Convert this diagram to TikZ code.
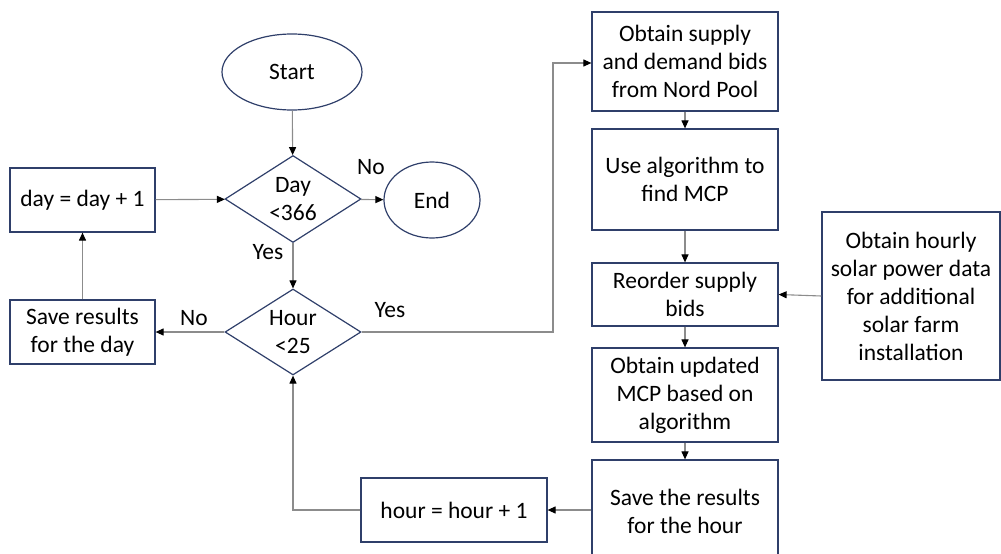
\documentclass[tikz,border=0pt]{standalone}
\usepackage{fontspec}
\setmainfont{Carlito}
\usetikzlibrary{shapes.geometric,arrows.meta}
\definecolor{bordc}{HTML}{2F3F6A}
\definecolor{linec}{HTML}{8C8C8C}
\tikzset{
  box/.style={draw=bordc,line width=1.2pt,fill=white,inner sep=0pt,align=center,font=\fontsize{23.5}{28}\selectfont},
  oval/.style={ellipse,draw=bordc,line width=1.2pt,inner sep=0pt,font=\fontsize{23.5}{28}\selectfont},
  dec/.style={diamond,draw=bordc,line width=1.2pt,inner sep=0pt,aspect=1.56,align=center,font=\fontsize{23.5}{28}\selectfont},
  conn/.style={draw=linec,line width=1.1pt,-{Triangle[length=8pt,width=7pt,fill=black,color=black]}},
  lbl/.style={font=\fontsize{23.5}{28}\selectfont}
}
\begin{document}
\begin{tikzpicture}[x=1pt,y=-1pt]
\useasboundingbox (0,0) rectangle (1001,554);
\node[oval,minimum width=140pt,minimum height=76pt] (start) at (292,72) {Start};
\node[dec,minimum width=136pt,minimum height=87pt] (day) at (293,199) {Day\\<366};
\node[oval,minimum width=96pt,minimum height=76pt] (end) at (432,200) {End};
\node[box,minimum width=145pt,minimum height=64pt] (inc) at (82.5,200) {day = day + 1};
\node[box,minimum width=145pt,minimum height=64pt] (saveday) at (82.5,332) {Save results\\for the day};
\node[dec,minimum width=136pt,minimum height=86pt] (hour) at (293,332) {Hour\\<25};
\node[box,minimum width=186pt,minimum height=64pt] (hinc) at (454,510) {hour = hour + 1};
\node[box,minimum width=186pt,minimum height=99pt] (b1) at (685,61.5) {Obtain supply\\and demand bids\\from Nord Pool};
\node[box,minimum width=186pt,minimum height=101pt] (b2) at (685,179.5) {Use algorithm to\\find MCP};
\node[box,minimum width=186pt,minimum height=63pt] (b3) at (685,294.5) {Reorder supply\\bids};
\node[box,minimum width=186pt,minimum height=94pt] (b4) at (685,395) {Obtain updated\\MCP based on\\algorithm};
\node[box,minimum width=186pt,minimum height=102pt] (b5) at (685,511) {Save the results\\for the hour};
\node[box,minimum width=178pt,minimum height=168pt] (solar) at (911,296) {Obtain hourly\\solar power data\\for additional\\solar farm\\installation};
\coordinate (yc1) at (553,332);
\coordinate (yc2) at (553,63);
\coordinate (hc) at (293,510);
\draw[conn] (start) -- (day);
\draw[conn] (inc) -- (day);
\draw[conn] (day) -- (end);
\draw[conn] (day) -- (hour);
\draw[conn] (hour) -- (saveday);
\draw[conn] (saveday) -- (inc);
\draw[conn] (hour.east) -- (yc1) -- (yc2) -- (b1.west |- yc2);
\draw[conn] (b1) -- (b2);
\draw[conn] (b2) -- (b3);
\draw[conn] (solar.west) -- (b3.east);
\draw[conn] (b3) -- (b4);
\draw[conn] (b4) -- (b5);
\draw[conn] (b5.west |- hinc.east) -- (hinc.east);
\draw[conn] (hinc.west) -- (hc) -- (hour.south);
\node[lbl] (lno1) at (371,167) {No};
\node[lbl] (lyes1) at (268,252) {Yes};
\node[lbl] (lno2) at (194,318) {No};
\node[lbl] (lyes2) at (390,310) {Yes};
\end{tikzpicture}
\end{document}
